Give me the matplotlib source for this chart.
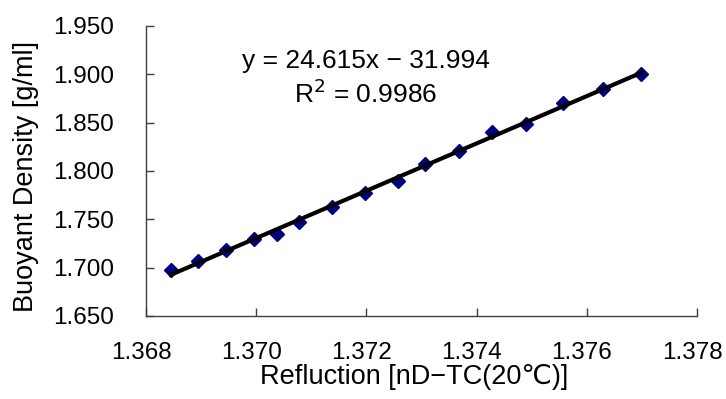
import numpy as np
import matplotlib
matplotlib.use("Agg")
import matplotlib.pyplot as plt
from matplotlib.transforms import ScaledTranslation

plt.rcParams['font.family'] = ['Liberation Sans', 'DejaVu Sans', 'Noto Sans CJK JP']
plt.rcParams['axes.unicode_minus'] = True

refraction = [1.36845, 1.36895, 1.36946, 1.36996, 1.37038, 1.37078, 1.37138, 1.37198,
              1.37257, 1.37307, 1.37368, 1.37428, 1.37489, 1.37557, 1.37629, 1.37698]
density = [1.6972, 1.7069, 1.7183, 1.7297, 1.7348, 1.7472, 1.7628, 1.7772,
           1.7897, 1.8072, 1.8207, 1.8403, 1.8486, 1.8703, 1.8848, 1.9003]
x_ticks = [1.368, 1.370, 1.372, 1.374, 1.376, 1.378]
y_ticks = [1.650, 1.700, 1.750, 1.800, 1.850, 1.900, 1.950]
eq_text = "y = 24.615x − 31.994"
r2_text = "R$^2$ = 0.9986"

W, H = 726, 399
fig = plt.figure(figsize=(W/100, H/100), dpi=100)
L, R, B, T = 146, 697, 316, 26
ax = fig.add_axes([L/W, 1-B/H, (R-L)/W, (B-T)/H])

x = np.array(refraction)
y = np.array(density)
coef = np.polyfit(x, y, 1)
xl = np.array([x.min(), x.max()])
ax.plot(x, y, linestyle='none', marker='D', markersize=6.8, color='#000080', zorder=2)
ax.plot(xl, np.polyval(coef, xl), color='black', linewidth=3, zorder=3)

ax.set_xlim(1.368, 1.378)
ax.set_ylim(1.650, 1.950)
ax.set_xticks(x_ticks)
ax.set_xticklabels([f"{v:.3f}" for v in x_ticks])
ax.set_yticks(y_ticks)
ax.set_yticklabels([f"{v:.3f}" for v in y_ticks])
for s in ['top', 'right']:
    ax.spines[s].set_visible(False)
for s in ['left', 'bottom']:
    ax.spines[s].set_color('#404040')
    ax.spines[s].set_linewidth(1.0)
ax.tick_params(direction='in', length=6, width=1, color='#404040', labelsize=17.5)
ax.tick_params(axis='y', pad=23)
ax.tick_params(axis='x', pad=19)
shift = ScaledTranslation(-5/100, 0, fig.dpi_scale_trans)
for lab in ax.get_xticklabels():
    lab.set_transform(lab.get_transform() + shift)

ax.set_xlabel("Refluction [nD−TC(20℃)]", fontsize=19.5, va='center', ha='center')
ax.xaxis.set_label_coords((414-L)/(R-L), (B-377)/(B-T))
ax.set_ylabel("Buoyant Density [g/ml]", fontsize=19.5, va='center', ha='center')
ax.yaxis.set_label_coords((26-L)/(R-L), (B-176)/(B-T))

fig.text(366/W, 1-68/H, eq_text, fontsize=19, ha='center', va='baseline')
fig.text(366/W, 1-103/H, r2_text, fontsize=19, ha='center', va='baseline')

fig.savefig("out.png", dpi=100)
